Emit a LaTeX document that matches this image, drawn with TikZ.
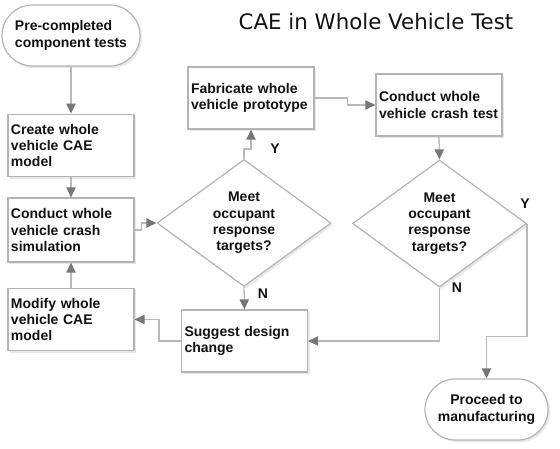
\documentclass[tikz,border=0pt]{standalone}
\usepackage{fontspec}
\setmainfont{Liberation Sans}
\newfontfamily\titlefont{DejaVu Sans}
\usetikzlibrary{arrows.meta,shapes.geometric,shadows}
\definecolor{boxline}{HTML}{B4B4B4}
\definecolor{conline}{HTML}{B8B8B8}
\definecolor{headgray}{HTML}{777777}
\definecolor{txt}{HTML}{111111}
\tikzset{
  base/.style={draw=boxline, line width=0.9pt, fill=white, text=txt,
    font=\fontsize{10.5}{12.2}\selectfont\bfseries,
    drop shadow={opacity=0.18, shadow xshift=1.6pt, shadow yshift=-1.6pt}},
  procbox/.style={base, rectangle, minimum width=94.5pt, minimum height=47pt,
    text width=90pt, inner xsep=2.25pt, inner ysep=0pt, align=left},
  termbox/.style={base, rectangle, rounded corners=22.8pt, minimum width=103.5pt,
    minimum height=45.75pt, inner sep=0pt, align=left},
  decbox/.style={base, diamond, aspect=1.37, minimum width=130.5pt,
    minimum height=95.25pt, inner sep=0pt, align=center},
  conn/.style={draw=conline, line width=1pt,
    -{Triangle[length=7.5pt,width=7pt,color=headgray]}},
  lbl/.style={font=\fontsize{10.5}{12}\selectfont\bfseries, text=txt, inner sep=0pt}
}
\begin{document}
\begin{tikzpicture}[x=0.75pt,y=-0.75pt]
\useasboundingbox (0,0) rectangle (560,449);
\node[font=\titlefont\fontsize{16}{19}\selectfont, text=txt, inner sep=0pt] (title) at (376,22) {CAE in Whole Vehicle Test};

\node[termbox] (pre) at (71,35.5) {Pre-completed\\component tests};
\node[procbox] (create) at (71,145.5) {Create whole\\vehicle CAE\\model};
\node[procbox, minimum height=48pt] (sim) at (71,230) {Conduct whole\\vehicle crash\\simulation};
\node[procbox] (modify) at (71,319.5) {Modify whole\\vehicle CAE\\model};
\node[procbox, minimum height=46.5pt] (fab) at (251,98) {Fabricate whole\\vehicle prototype};
\node[procbox, minimum height=46.5pt] (test) at (439,105) {Conduct whole\\vehicle crash test};
\node[procbox, minimum height=46.5pt] (suggest) at (244.5,341) {Suggest design\\change};
\node[decbox] (d1) at (244,223) {Meet\\occupant\\response\\targets?};
\node[decbox] (d2) at (439.5,223.5) {Meet\\occupant\\response\\targets?};
\node[termbox, minimum width=92.25pt, align=center] (proceed) at (486.5,409.5) {Proceed to\\manufacturing};

\draw[conn] (pre.south) -- (create.north);
\draw[conn] (create.south) -- (sim.north);
\draw[conn] (modify.north) -- (sim.south);
\draw[conn] (sim.east) -- ++(7,0) |- (d1.west);
\draw[conn] (d1.north) -- ++(0,-10) -| (fab.south);
\draw[conn] (fab.east) -- ++(33,0) |- (test.west);
\draw[conn] (test.south) -- (d2.north);
\draw[conn] (d1.south) -- (suggest.north);
\draw[conn] (d2.south) |- (suggest.east);
\draw[conn] (suggest.west) -- ++(-22,0) |- (modify.east);
\draw[conn] (d2.east) -- ++(0,113) -| (proceed.north);

\node[lbl] (y1) at (275,149) {Y};
\node[lbl] (n1) at (263,294) {N};
\node[lbl] (y2) at (525,204) {Y};
\node[lbl] (n2) at (457,288) {N};
\end{tikzpicture}
\end{document}
